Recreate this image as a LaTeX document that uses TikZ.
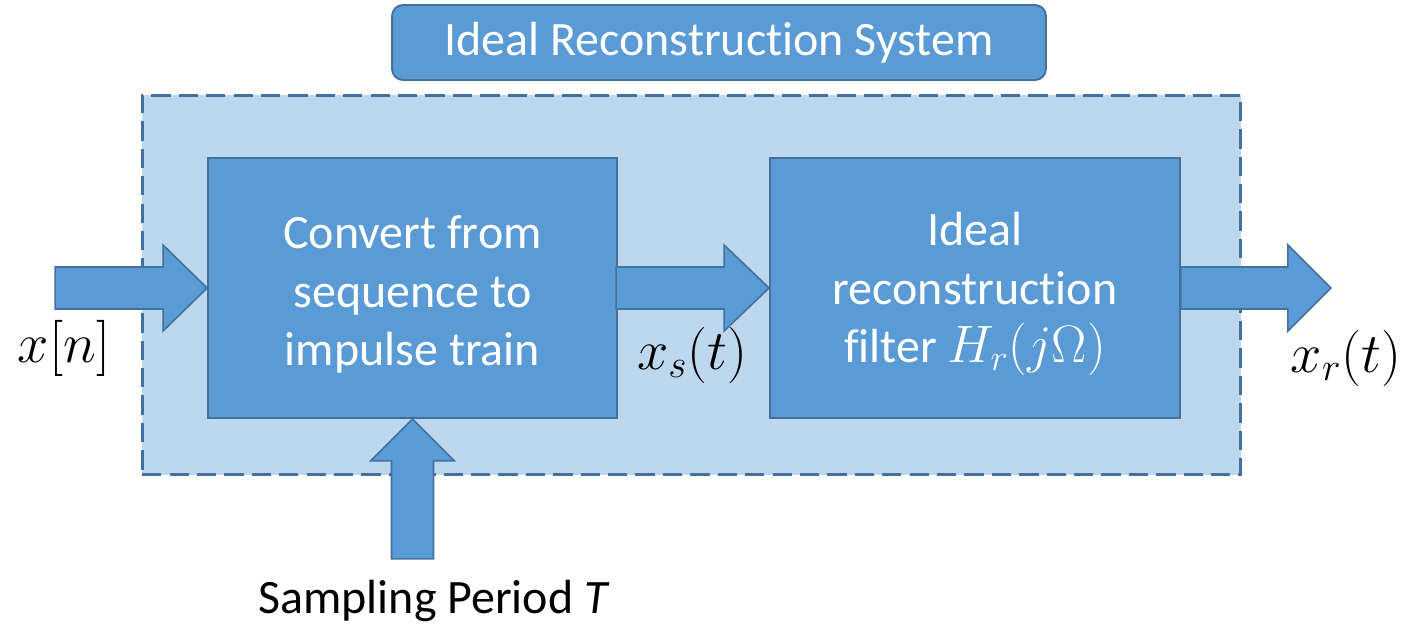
\RequirePackage{fix-cm}
\documentclass[tikz,border=0pt]{standalone}
\usepackage{fontspec}
\setmainfont[Ligatures={NoCommon}]{Carlito}
\usepackage{tikz}
\usetikzlibrary{positioning,calc}
\definecolor{blockfill}{HTML}{5B9BD5}
\definecolor{blockline}{HTML}{41719C}
\definecolor{sysfill}  {HTML}{BDD7EE}
\tikzset{
  every node/.style={font=\fontsize{27.3}{33.3}\selectfont},
  % --- nodes
  blk/.style    = {draw=blockline, fill=blockfill, text=white, align=center,
                   line width=1.1pt, inner sep=0pt},
  titlebox/.style = {blk, rounded corners=0.22cm},
  sysbox/.style = {draw=blockline, fill=sysfill, line width=1.7pt,
                   dash pattern=on 11pt off 4.6pt},
  sig/.style    = {text=black, inner sep=0pt},
  sigmath/.style= {sig, font=\fontsize{32}{38}\selectfont},
  % --- block arrows
  barrow/.style = {draw=blockline, fill=blockfill, line width=0.9pt, line join=miter},
}
\begin{document}
\begin{tikzpicture}[x=0.02cm,y=-0.02cm]
  \useasboundingbox (0,0) rectangle (1417,629);

  \node[sysbox, minimum width=21.98cm, minimum height=7.6cm] (sys) at (691.5,285) {};
  \node[titlebox, minimum width=13.08cm, minimum height=1.5cm] (title) at (719,42.5)
    {Ideal Reconstruction System};
  \node[blk, minimum width=8.18cm, minimum height=5.2cm] (conv) at (412.5,288)
    {\\[-0.25cm]Convert from\\sequence to\\impulse train};
  \node[blk, minimum width=8.2cm, minimum height=5.2cm] (filt) at (975,288)
    {\\[-0.25cm]Ideal\\reconstruction\\filter {\fontsize{30}{33}\selectfont$H_r(j\Omega)$}};
  \coordinate (out) at ($(filt.east)+(150,0)$);

  % arrows between blocks
  \draw[barrow] (conv.west) -- ++(-44,-43) -- ++(0,22) -- ++(-108,0) -- ++(0,42)
    -- ++(108,0) -- ++(0,22) -- cycle;
  \draw[barrow] (filt.west) -- ++(-45,-43) -- ++(0,22) -- ++(-108,0) -- ++(0,42)
    -- ++(108,0) -- ++(0,22) -- cycle;
  \draw[barrow] (filt.east) ++(0,-21) -- ++(107,0) -- ++(0,-22) -- (out)
    -- ++(-43,43) -- ++(0,-22) -- ++(-107,0) -- cycle;
  \draw[barrow] (conv.south) -- ++(42,42) -- ++(-21,0) -- ++(0,98) -- ++(-42,0)
    -- ++(0,-98) -- ++(-21,0) -- cycle;

  % signal labels
  \node[sigmath] (xn) at (64,348) {$x[n]$};
  \node[sigmath] (xs) at (692,355) {$x_s(t)$};
  \node[sigmath] (xr) at (1346,358) {$x_r(t)$};
  \node[sig] (samp) at (434,601) {Sampling Period \textit{T}};
\end{tikzpicture}
\end{document}
